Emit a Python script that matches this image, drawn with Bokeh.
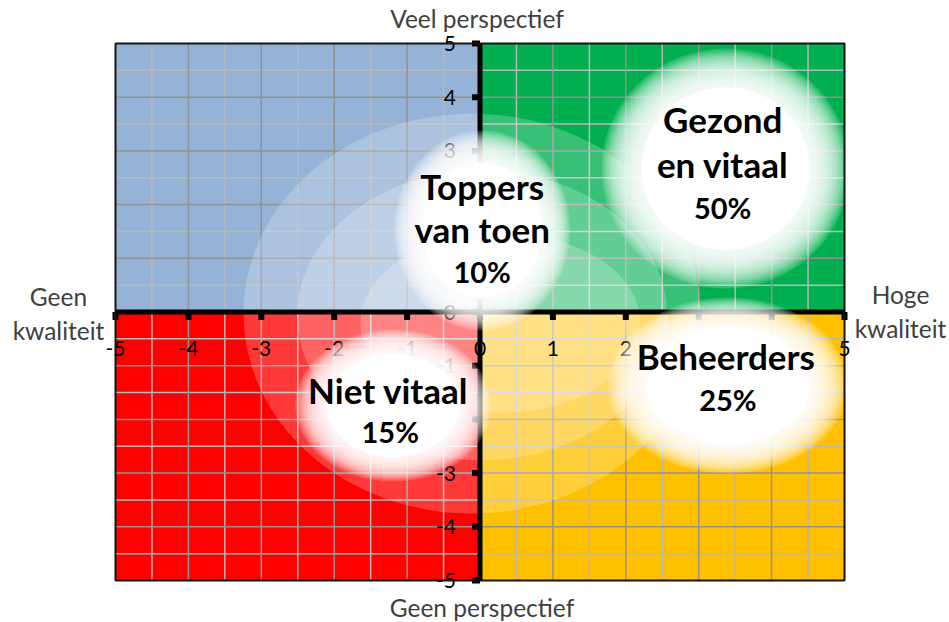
from bokeh.plotting import figure
from bokeh.models import Range1d
from bokeh.core.properties import value
from bokeh.embed import file_html
from bokeh.resources import INLINE

# ---------------- data ----------------
x_ticks = [-5, -4, -3, -2, -1, 0, 1, 2, 3, 4, 5]
y_ticks = [-5, -4, -3, -2, -1, 0, 1, 2, 3, 4, 5]
x_title_left = ["Geen", "kwaliteit"]
x_title_right = ["Hoge", "kwaliteit"]
y_title_top = "Veel perspectief"
y_title_bottom = "Geen perspectief"

segment_lines = [["Toppers", "van toen"], ["Gezond", "en vitaal"], ["Niet vitaal"], ["Beheerders"]]
segment_share = [10, 50, 15, 25]
segment_color = ["#95B3D7", "#00B050", "#FF0000", "#FFC000"]
segment_x_side = [-1, 1, -1, 1]
segment_y_side = [1, 1, -1, -1]

# ---------------- layout helpers ----------------
W, H = 949, 622
XMIN, XMAX = x_ticks[0], x_ticks[-1]
YMIN, YMAX = y_ticks[0], y_ticks[-1]
PX_X = 72.9   # pixels per x unit
PX_Y = 53.7   # pixels per y unit

p = figure(width=W, height=H,
           x_range=Range1d(XMIN - 115 / PX_X, XMAX + (W - 844) / PX_X),
           y_range=Range1d(YMIN - (H - 580) / PX_Y, YMAX + 43 / PX_Y),
           toolbar_location=None, output_backend="svg", min_border=0,
           x_axis_type=None, y_axis_type=None)
p.outline_line_color = None
p.background_fill_color = "white"
p.border_fill_color = "white"

FONT = value("Lato")

# quadrants
q_left = [XMIN if s < 0 else 0 for s in segment_x_side]
q_right = [0 if s < 0 else XMAX for s in segment_x_side]
q_bottom = [YMIN if s < 0 else 0 for s in segment_y_side]
q_top = [0 if s < 0 else YMAX for s in segment_y_side]
p.quad(left=q_left, right=q_right, bottom=q_bottom, top=q_top,
       fill_color=segment_color, line_color=None)

# grid: integer lines and half-way lines
maj_x = [t for t in x_ticks[1:-1] if t != 0]
maj_y = [t for t in y_ticks[1:-1] if t != 0]
min_x = [(a + b) / 2 for a, b in zip(x_ticks[:-1], x_ticks[1:])]
min_y = [(a + b) / 2 for a, b in zip(y_ticks[:-1], y_ticks[1:])]
p.segment(x0=min_x, y0=[YMIN] * len(min_x), x1=min_x, y1=[YMAX] * len(min_x),
          line_color="#B8B8B8", line_width=1.5)
p.segment(x0=[XMIN] * len(min_y), y0=min_y, x1=[XMAX] * len(min_y), y1=min_y,
          line_color="#B8B8B8", line_width=1.5)
p.segment(x0=maj_x, y0=[YMIN] * len(maj_x), x1=maj_x, y1=[YMAX] * len(maj_x),
          line_color="#929292", line_width=1.5)
p.segment(x0=[XMIN] * len(maj_y), y0=maj_y, x1=[XMAX] * len(maj_y), y1=maj_y,
          line_color="#929292", line_width=1.5)

# soft concentric light bands
for cx, cy, w, h in [(-0.11, -0.03, 457, 400), (0.03, -0.06, 370, 290), (0.28, -0.2, 280, 180)]:
    p.ellipse(x=[cx], y=[cy], width=[w / PX_X], height=[h / PX_Y],
              fill_color="white", fill_alpha=0.22, line_color=None)

# axis lines through origin
p.segment(x0=[XMIN, 0], y0=[0, YMIN], x1=[XMAX, 0], y1=[0, YMAX],
          line_color="black", line_width=5)
# tick marks
p.segment(x0=x_ticks, y0=[0] * len(x_ticks), x1=x_ticks, y1=[-8 / PX_Y] * len(x_ticks),
          line_color="black", line_width=6, line_cap="butt")
p.segment(x0=[0] * len(y_ticks), y0=y_ticks, x1=[-8 / PX_X] * len(y_ticks), y1=y_ticks,
          line_color="black", line_width=6, line_cap="butt")
# tick labels
p.text(x=x_ticks, y=[0] * len(x_ticks), text=[str(t) for t in x_ticks],
       text_font=FONT, text_font_size="21px", text_color="black",
       text_align="center", text_baseline="middle", y_offset=36)
p.text(x=[0] * len(y_ticks), y=y_ticks, text=[str(t) for t in y_ticks],
       text_font=FONT, text_font_size="21px", text_color="black",
       text_align="right", text_baseline="middle", x_offset=-24)

# white glows behind the segment labels
blob_cx = [0.03, 3.37, -1.19, 3.40]
blob_cy = [1.52, 2.67, -1.74, -1.37]
blob_rx = [88, 124, 98, 120]
blob_ry = [100, 120, 76, 88]
N = 16
for k in range(N + 1):
    f = 0.68 + 0.32 * k / N
    alpha = 1.0 if k == 0 else 0.17
    p.ellipse(x=blob_cx, y=blob_cy,
              width=[2 * r * f for r in blob_rx], height=[2 * r * f for r in blob_ry],
              width_units="screen", height_units="screen",
              fill_color="white", fill_alpha=alpha, line_color=None)

# frame border
p.quad(left=[XMIN], right=[XMAX], bottom=[YMIN], top=[YMAX],
       fill_color=None, line_color="#151515", line_width=2)

# segment labels
name_dy = [[-44, -1], [-50, -5], [-15], [-30]]
name_dx = [0, -3, -5, -2]
pct_dy = [41, 39, 26, 14]
pct_dx = [0, -3, -3, 0]
for i, lines in enumerate(segment_lines):
    for ln, dy in zip(lines, name_dy[i]):
        p.text(x=[blob_cx[i]], y=[blob_cy[i]], text=[ln], text_font=FONT,
               text_font_style="bold", text_font_size="35px", text_color="black",
               text_align="center", text_baseline="middle",
               x_offset=name_dx[i], y_offset=dy)
    p.text(x=[blob_cx[i]], y=[blob_cy[i]], text=[f"{segment_share[i]}%"], text_font=FONT,
           text_font_style="bold", text_font_size="29px", text_color="black",
           text_align="center", text_baseline="middle",
           x_offset=pct_dx[i], y_offset=pct_dy[i])

# axis titles
TITLE_COLOR = "#404040"
TS = "24.5px"
p.text(x=[0], y=[YMAX], text=[y_title_top], text_font=FONT, text_font_size=TS,
       text_color=TITLE_COLOR, text_align="center", text_baseline="alphabetic",
       x_offset=-3, y_offset=-25)
p.text(x=[0], y=[YMIN], text=[y_title_bottom], text_font=FONT, text_font_size=TS,
       text_color=TITLE_COLOR, text_align="center", text_baseline="alphabetic",
       x_offset=2, y_offset=27)
for ln, dy in zip(x_title_left, [-16, 18]):
    p.text(x=[XMIN], y=[0], text=[ln], text_font=FONT, text_font_size=TS,
           text_color=TITLE_COLOR, text_align="center", text_baseline="alphabetic",
           x_offset=-57, y_offset=dy)
for ln, dy in zip(x_title_right, [-18, 16]):
    p.text(x=[XMAX], y=[0], text=[ln], text_font=FONT, text_font_size=TS,
           text_color=TITLE_COLOR, text_align="center", text_baseline="alphabetic",
           x_offset=56, y_offset=dy)

open("out.html", "w").write(file_html(p, INLINE))
